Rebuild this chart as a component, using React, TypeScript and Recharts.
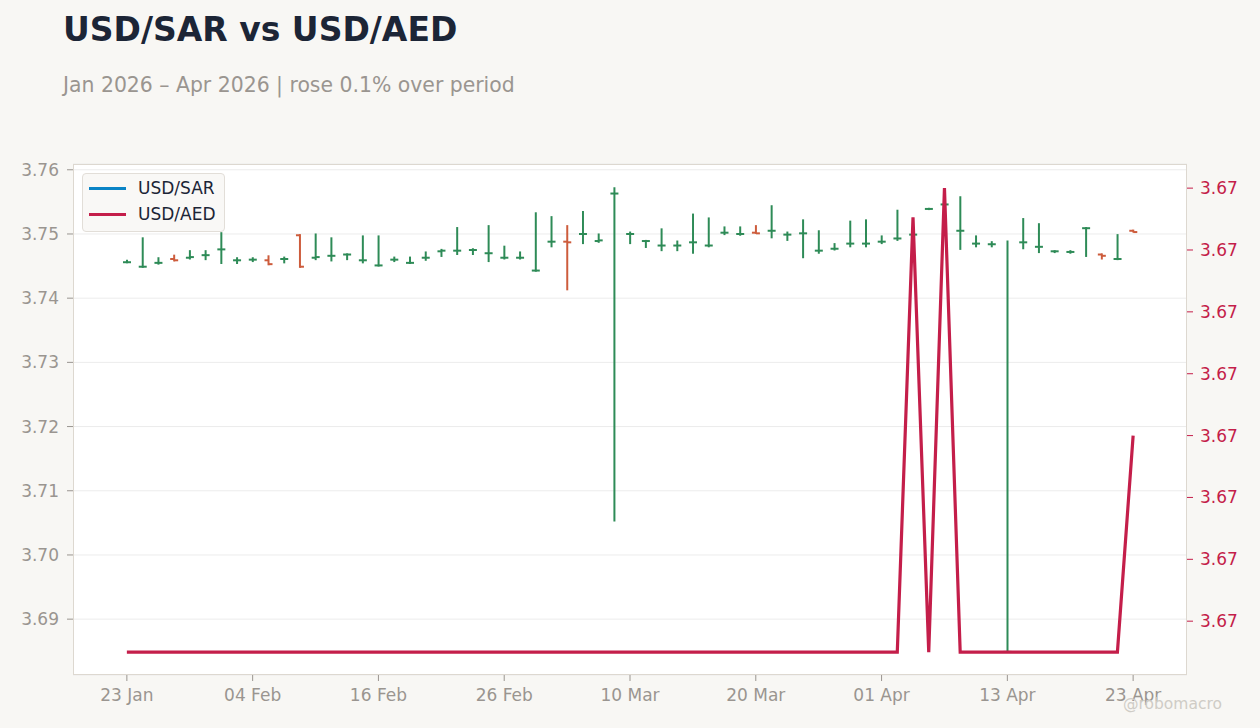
import React from "react";
import { ComposedChart, Bar, Line, XAxis, YAxis, CartesianGrid } from "recharts";

const dates = [
  "23 Jan", "26 Jan", "27 Jan", "28 Jan", "29 Jan", "30 Jan",
  "02 Feb", "03 Feb", "04 Feb", "05 Feb", "06 Feb",
  "09 Feb", "10 Feb", "11 Feb", "12 Feb", "13 Feb",
  "16 Feb", "17 Feb", "18 Feb", "19 Feb", "20 Feb",
  "23 Feb", "24 Feb", "25 Feb", "26 Feb", "27 Feb",
  "02 Mar", "03 Mar", "04 Mar", "05 Mar", "06 Mar",
  "09 Mar", "10 Mar", "11 Mar", "12 Mar", "13 Mar",
  "16 Mar", "17 Mar", "18 Mar", "19 Mar", "20 Mar",
  "23 Mar", "24 Mar", "25 Mar", "26 Mar", "27 Mar",
  "30 Mar", "31 Mar", "01 Apr", "02 Apr", "03 Apr",
  "06 Apr", "07 Apr", "08 Apr", "09 Apr", "10 Apr",
  "13 Apr", "14 Apr", "15 Apr", "16 Apr", "17 Apr",
  "20 Apr", "21 Apr", "22 Apr", "23 Apr",
];

const tickDates = ["23 Jan", "04 Feb", "16 Feb", "26 Feb", "10 Mar", "20 Mar", "01 Apr", "13 Apr", "23 Apr"];

const sarOpen = [
  3.7456, 3.7449, 3.7455, 3.7461, 3.7463, 3.7467, 3.7476, 3.7459, 3.7460, 3.7459,
  3.7461, 3.7498, 3.7463, 3.7466, 3.7468, 3.7459, 3.7451, 3.7460, 3.7455, 3.7463,
  3.7473, 3.7474, 3.7475, 3.7470, 3.7463, 3.7463, 3.7443, 3.7488, 3.7488, 3.7500,
  3.7489, 3.7563, 3.7500, 3.7489, 3.7482, 3.7482, 3.7487, 3.7482, 3.7502, 3.7500,
  3.7502, 3.7505, 3.7499, 3.7501, 3.7474, 3.7477, 3.7485, 3.7485, 3.7488, 3.7493,
  3.7499, 3.7539, 3.7546, 3.7505, 3.7485, 3.7484, 3.6849, 3.7487, 3.7480, 3.7473,
  3.7472, 3.7509, 3.7468, 3.7461, 3.7505,
];
const sarHigh = [
  3.7459, 3.7494, 3.7463, 3.7467, 3.7474, 3.7474, 3.7502, 3.7463, 3.7463, 3.7466,
  3.7464, 3.7499, 3.7500, 3.7494, 3.7469, 3.7497, 3.7497, 3.7464, 3.7464, 3.7472,
  3.7476, 3.7510, 3.7477, 3.7513, 3.7481, 3.7472, 3.7533, 3.7527, 3.7513, 3.7535,
  3.7500, 3.7572, 3.7503, 3.7490, 3.7508, 3.7489, 3.7531, 3.7525, 3.7511, 3.7511,
  3.7513, 3.7544, 3.7503, 3.7522, 3.7505, 3.7485, 3.7520, 3.7522, 3.7497, 3.7537,
  3.7500, 3.7540, 3.7547, 3.7558, 3.7497, 3.7488, 3.7489, 3.7524, 3.7516, 3.7474,
  3.7474, 3.7510, 3.7469, 3.7499, 3.7506,
];
const sarLow = [
  3.7455, 3.7448, 3.7453, 3.7458, 3.7461, 3.7460, 3.7454, 3.7454, 3.7457, 3.7452,
  3.7455, 3.7448, 3.7460, 3.7458, 3.7460, 3.7455, 3.7450, 3.7457, 3.7454, 3.7459,
  3.7465, 3.7468, 3.7468, 3.7457, 3.7461, 3.7461, 3.7442, 3.7480, 3.7413, 3.7485,
  3.7487, 3.7053, 3.7485, 3.7479, 3.7474, 3.7474, 3.7470, 3.7480, 3.7499, 3.7498,
  3.7501, 3.7494, 3.7490, 3.7463, 3.7470, 3.7475, 3.7480, 3.7480, 3.7485, 3.7490,
  3.7498, 3.7538, 3.7545, 3.7476, 3.7480, 3.7480, 3.6848, 3.7477, 3.7471, 3.7471,
  3.7470, 3.7465, 3.7461, 3.7460, 3.7503,
];
const sarClose = [
  3.7456, 3.7449, 3.7455, 3.7459, 3.7464, 3.7467, 3.7476, 3.7459, 3.7460, 3.7453,
  3.7461, 3.7449, 3.7464, 3.7466, 3.7468, 3.7459, 3.7451, 3.7460, 3.7455, 3.7463,
  3.7474, 3.7474, 3.7475, 3.7470, 3.7463, 3.7463, 3.7443, 3.7488, 3.7487, 3.7500,
  3.7490, 3.7563, 3.7500, 3.7489, 3.7482, 3.7482, 3.7487, 3.7482, 3.7502, 3.7500,
  3.7501, 3.7505, 3.7499, 3.7501, 3.7474, 3.7477, 3.7485, 3.7485, 3.7488, 3.7493,
  3.7499, 3.7539, 3.7546, 3.7505, 3.7485, 3.7484, 3.6849, 3.7487, 3.7480, 3.7473,
  3.7472, 3.7509, 3.7466, 3.7461, 3.7503,
];
const aedClose = [
  3.67195, 3.67195, 3.67195, 3.67195, 3.67195, 3.67195, 3.67195, 3.67195, 3.67195, 3.67195,
  3.67195, 3.67195, 3.67195, 3.67195, 3.67195, 3.67195, 3.67195, 3.67195, 3.67195, 3.67195,
  3.67195, 3.67195, 3.67195, 3.67195, 3.67195, 3.67195, 3.67195, 3.67195, 3.67195, 3.67195,
  3.67195, 3.67195, 3.67195, 3.67195, 3.67195, 3.67195, 3.67195, 3.67195, 3.67195, 3.67195,
  3.67195, 3.67195, 3.67195, 3.67195, 3.67195, 3.67195, 3.67195, 3.67195, 3.67195, 3.67195,
  3.672653, 3.67195, 3.6727, 3.67195, 3.67195, 3.67195, 3.67195, 3.67195, 3.67195, 3.67195,
  3.67195, 3.67195, 3.67195, 3.67195, 3.6723,
];

const leftTicks = [3.69, 3.7, 3.71, 3.72, 3.73, 3.74, 3.75, 3.76];
const rightTicks = [3.672, 3.6721, 3.6722, 3.6723, 3.6724, 3.6725, 3.6726, 3.6727];

const GREEN = "#2e8b57";
const RED = "#cd5c3c";
const AED = "#c41e4a";
const SAR_LEGEND = "#0a84c6";
const FONT = "'DejaVu Sans', sans-serif";

const rows = dates.map((d, i) => ({
  date: d,
  open: sarOpen[i],
  high: sarHigh[i],
  low: sarLow[i],
  close: sarClose[i],
  range: [sarLow[i], sarHigh[i]],
  aed: aedClose[i],
}));

const OhlcShape = (props: any) => {
  const { x, y, width, height, payload } = props;
  if (x == null || y == null || !payload) return null;
  const top = Math.min(y, y + height);
  const bot = Math.max(y, y + height);
  const { open, high, low, close } = payload;
  const span = high - low;
  const ppv = span > 0 ? (bot - top) / span : 0;
  const yo = top + (high - open) * ppv;
  const yc = top + (high - close) * ppv;
  const cx = x + width / 2;
  const color = close >= open ? GREEN : RED;
  return (
    <g>
      <line x1={cx} x2={cx} y1={top - 0.5} y2={bot + 0.5} stroke={color} strokeWidth={2} />
      <line x1={cx - 4} x2={cx} y1={yo} y2={yo} stroke={color} strokeWidth={2} />
      <line x1={cx} x2={cx + 4} y1={yc} y2={yc} stroke={color} strokeWidth={2} />
    </g>
  );
};

const vGen = (p: any) => {
  try {
    const s = p.xAxis.scale;
    const bw = s.bandwidth ? s.bandwidth() : 0;
    return tickDates.map((d) => s(d) + bw / 2);
  } catch (e) {
    return [];
  }
};

export default function App() {
  return (
    <div style={{ position: "relative", width: 1260, height: 728, background: "#f8f7f4", fontFamily: FONT, overflow: "hidden" }}>
      <style>{"body{margin:0;background:#f8f7f4;}"}</style>
      <div style={{ position: "absolute", left: 63, top: 10, fontSize: 33, fontWeight: 700, color: "#1c2536", whiteSpace: "nowrap" }}>
        USD/SAR vs USD/AED
      </div>
      <div style={{ position: "absolute", left: 63, top: 73, fontSize: 20.4, color: "#9a9590", whiteSpace: "nowrap" }}>
        Jan 2026 – Apr 2026 | rose 0.1% over period
      </div>
      <ComposedChart
        width={1260}
        height={728}
        data={rows}
        margin={{ top: 164, right: 0, bottom: 0, left: 0 }}
        style={{ position: "absolute", left: 0, top: 0 }}
      >
        <CartesianGrid
          yAxisId="left"
          stroke="#ececec"
          fill="#ffffff"
          verticalCoordinatesGenerator={vGen}
        />
        <XAxis
          dataKey="date"
          type="category"
          ticks={tickDates}
          interval={0}
          padding={{ left: 46, right: 46 }}
          height={53}
          axisLine={false}
          tickLine={{ stroke: "#9a9590" }}
          tickSize={6}
          tickMargin={8}
          tick={{ fill: "#9a9590", fontSize: 17, fontFamily: FONT }}
        />
        <YAxis
          yAxisId="left"
          orientation="left"
          width={73}
          domain={[3.6813, 3.7609]}
          ticks={leftTicks}
          allowDataOverflow
          axisLine={false}
          tickLine={{ stroke: "#9a9590" }}
          tickSize={6}
          tickMargin={8}
          tickFormatter={(v: number) => v.toFixed(2)}
          tick={{ fill: "#9a9590", fontSize: 17, fontFamily: FONT }}
        />
        <YAxis
          yAxisId="right"
          orientation="right"
          width={73}
          domain={[3.671913, 3.672739]}
          ticks={rightTicks}
          allowDataOverflow
          axisLine={false}
          tickLine={{ stroke: AED }}
          tickSize={6}
          tickMargin={7}
          tickFormatter={(v: number) => v.toFixed(2)}
          tick={{ fill: AED, fontSize: 17, fontFamily: FONT }}
        />
        <Bar
          yAxisId="left"
          dataKey="range"
          name="USD/SAR"
          barSize={8}
          shape={OhlcShape}
          isAnimationActive={false}
        />
        <Line
          yAxisId="right"
          type="linear"
          dataKey="aed"
          name="USD/AED"
          stroke={AED}
          strokeWidth={3.2}
          dot={false}
          activeDot={false}
          isAnimationActive={false}
        />
      </ComposedChart>
      <div style={{ position: "absolute", left: 73, top: 164, width: 1114, height: 511, border: "1px solid #ddd8d0", boxSizing: "border-box", pointerEvents: "none" }} />
      <div style={{ position: "absolute", left: 82, top: 173, width: 143, height: 59, boxSizing: "border-box", border: "1px solid #e2ded8", borderRadius: 4, background: "rgba(248,247,244,0.85)" }}>
        <div style={{ position: "absolute", left: 6, top: 13, width: 37, height: 3, background: SAR_LEGEND }} />
        <div style={{ position: "absolute", left: 55, top: 4, fontSize: 17, color: "#1c2536", whiteSpace: "nowrap" }}>USD/SAR</div>
        <div style={{ position: "absolute", left: 6, top: 39, width: 37, height: 3, background: AED }} />
        <div style={{ position: "absolute", left: 55, top: 30, fontSize: 17, color: "#1c2536", whiteSpace: "nowrap" }}>USD/AED</div>
      </div>
      <div style={{ position: "absolute", left: 1123, top: 695, fontSize: 15.5, color: "#cfccc6", whiteSpace: "nowrap" }}>
        @robomacro
      </div>
    </div>
  );
}
